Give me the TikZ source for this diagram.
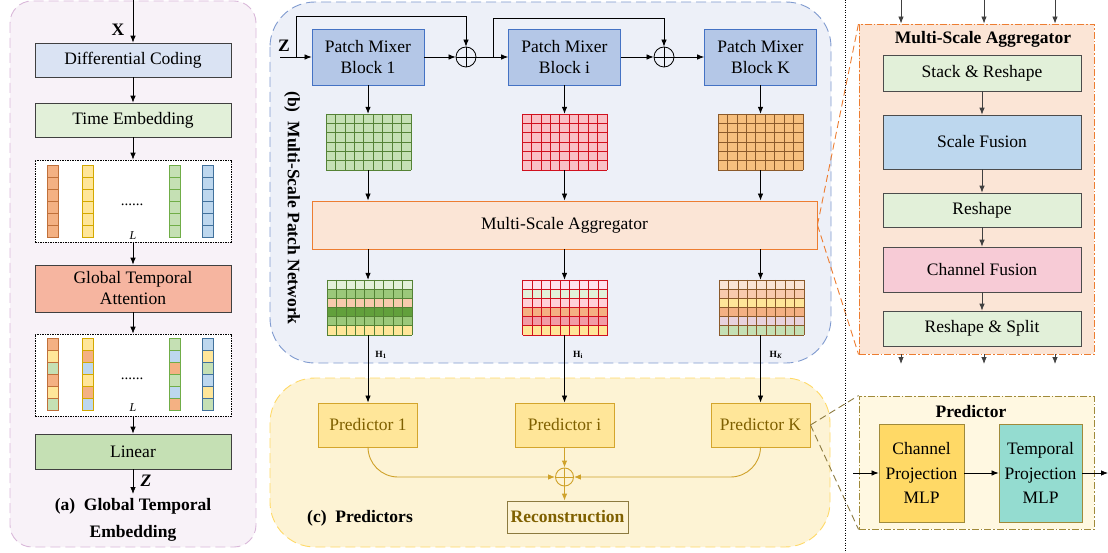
\documentclass[tikz,border=0pt]{standalone}
\usepackage{fontspec}
\setmainfont{Liberation Serif}
\usetikzlibrary{arrows.meta,calc}
\definecolor{pA}{HTML}{F8F2F8}\definecolor{pAl}{HTML}{D9B8D9}
\definecolor{pB}{HTML}{EDF0F8}\definecolor{pBl}{HTML}{7F9ACF}
\definecolor{pC}{HTML}{FDF3D4}\definecolor{pCl}{HTML}{FFD966}
\definecolor{cDC}{HTML}{DAE3F3}\definecolor{cTE}{HTML}{E2F0D9}
\definecolor{cGTA}{HTML}{F6B5A0}\definecolor{cLin}{HTML}{C5E0B4}
\definecolor{cPM}{HTML}{B4C7E7}\definecolor{cPMl}{HTML}{4472C4}
\definecolor{cAg}{HTML}{FBE5D6}\definecolor{cAgl}{HTML}{ED7D31}
\definecolor{cSF}{HTML}{BDD7EE}\definecolor{cCF}{HTML}{F7CBD6}
\definecolor{cPr}{HTML}{FFE699}\definecolor{cPrl}{HTML}{D4A52C}
\definecolor{cPrt}{HTML}{7F6000}\definecolor{gold}{HTML}{CFA22A}
\definecolor{cRecl}{HTML}{8C7A3F}\definecolor{cPB}{HTML}{FFF8E1}
\definecolor{cPBl}{HTML}{A08A3A}\definecolor{cCP}{HTML}{FFD966}
\definecolor{cTP}{HTML}{94DCD0}
% cell colours
\definecolor{oF}{HTML}{F4B183}\definecolor{oL}{HTML}{C0703A}
\definecolor{yF}{HTML}{FFE699}\definecolor{yL}{HTML}{D4A800}
\definecolor{gF}{HTML}{C5E0B4}\definecolor{gL}{HTML}{70AD47}
\definecolor{bF}{HTML}{BDD7EE}\definecolor{bL}{HTML}{41719C}
\definecolor{grL}{HTML}{548235}
\definecolor{pkF}{HTML}{F9C0C6}\definecolor{pkL}{HTML}{D0101E}
\definecolor{orF}{HTML}{F6BF7E}\definecolor{orL}{HTML}{8B5A2B}
\definecolor{r1}{HTML}{E2F0D9}\definecolor{r2}{HTML}{9BC87A}
\definecolor{r3}{HTML}{F8CBAD}\definecolor{r4}{HTML}{62A03C}
\definecolor{s1}{HTML}{FFE1EC}\definecolor{s3}{HTML}{FFD0D8}
\definecolor{s5}{HTML}{F19CA6}
\definecolor{t1}{HTML}{FBE5D6}\definecolor{t5}{HTML}{E8D3DD}
\newcommand\fs{\fontsize{17.5}{21}\selectfont}
\newcommand\mgrid[6]{%
  \foreach \cc [count=\j from 0] in {#6} {\fill[\cc] (#1,{#2+\j*#4/6}) rectangle ++(#3,{#4/6});}
  \foreach \i in {0,...,9} {\draw[#5,line width=0.7pt] ({#1+\i*#3/9},#2) -- ++(0,#4);}
  \foreach \j in {0,...,6} {\draw[#5,line width=0.7pt] (#1,{#2+\j*#4/6}) -- ++(#3,0);}
}
\newcommand\mcol[4]{%
  \foreach \cc [count=\j from 0] in {#4} {\filldraw[fill=\cc,draw=#3,line width=0.7pt] (#1,{#2+\j*12}) rectangle ++(11,12);}
}
\begin{document}
\begin{tikzpicture}[x=1pt,y=-1pt,
  box/.style={draw=black!75,line width=0.7pt,minimum width=196pt,minimum height=34pt,align=center,font=\fs,inner sep=0pt},
  pmbox/.style={draw=cPMl,fill=cPM,line width=0.8pt,minimum width=112pt,minimum height=56pt,align=center,font=\fontsize{17.5}{21}\selectfont,inner sep=0pt},
  rbox/.style={draw=black!70,line width=0.7pt,minimum width=198pt,align=center,font=\fs,inner sep=0pt},
  prbox/.style={draw=cPrl,fill=cPr,line width=0.9pt,minimum width=99pt,minimum height=44pt,font=\fs,text=cPrt,inner sep=0pt},
  arr/.style={-{Latex[length=7pt,width=5.5pt]},line width=0.75pt},
  gridnode/.style={minimum width=85pt,inner sep=0pt},
  dotbox/.style={draw=black,line width=0.6pt,dash pattern=on 1.5pt off 1pt,fill=white,minimum width=196pt,minimum height=82pt,inner sep=0pt},
  panel/.style={line width=0.9pt,dash pattern=on 10pt off 5pt},
  lbl/.style={font=\fs\bfseries}
]
\useasboundingbox (0,0) rectangle (1108,553);
% ---------- panels
\path[panel,draw=pAl,fill=pA,rounded corners=22pt] (10,1) rectangle (256,547);
\path[panel,draw=pBl,fill=pB,rounded corners=45pt] (270,2) rectangle (831,363);
\path[panel,draw=pCl,fill=pC,rounded corners=45pt] (270,378) rectangle (830,547);

% ---------- (a) Global Temporal Embedding
\coordinate (xin) at (133,0);
\node[box,fill=cDC] (dc) at (133,60) {Differential Coding};
\node[box,fill=cTE] (te) at (133,120) {Time Embedding};
\node[dotbox] (d1) at (133,201) {};
\node[box,fill=cGTA,minimum height=47pt,font=\fontsize{17.5}{21}\selectfont] (gta) at (133,288.5) {Global Temporal\\Attention};
\node[dotbox] (d2) at (133,375) {};
\node[box,fill=cLin,minimum height=35pt] (lin) at (133,451.5) {Linear};
\coordinate (zout) at (133,494);
\node[font=\fs\bfseries] (xl) at (118,30) {X};
\node[font=\fs\bfseries\itshape] (zl) at (146,481) {Z};
\draw[arr] (xin) -- (dc.north);
\draw[arr] (dc.south) -- (te.north);
\draw[arr] (te.south) -- (d1.north);
\draw[arr] (d1.south) -- (gta.north);
\draw[arr] (gta.south) -- (d2.north);
\draw[arr] (d2.south) -- (lin.north);
\draw[arr] (lin.south) -- (zout);
% columns box 1
\mcol{47}{165}{oL}{oF,oF,oF,oF,oF,oF}
\mcol{82}{165}{yL}{yF,yF,yF,yF,yF,yF}
\mcol{169}{165}{gL}{gF,gF,gF,gF,gF,gF}
\mcol{202}{165}{bL}{bF,bF,bF,bF,bF,bF}
\node[font=\fontsize{15}{18}\selectfont] (dots1) at (132,205) {......};
\node[font=\fontsize{12}{14}\selectfont\itshape] (L1) at (133,236) {L};
% columns box 2
\mcol{47}{338.5}{oL}{oF,yF,gF,oF,yF,gF}
\mcol{82}{338.5}{yL}{yF,oF,bF,yF,oF,bF}
\mcol{169}{338.5}{gL}{gF,bF,oF,gF,bF,oF}
\mcol{202}{338.5}{bL}{bF,yF,gF,bF,yF,gF}
\node[font=\fontsize{15}{18}\selectfont] (dots2) at (132,379) {......};
\node[font=\fontsize{12}{14}\selectfont\itshape] (L2) at (133,408) {L};
\node[font=\fontsize{17.5}{27}\selectfont\bfseries,align=center] (ta) at (133,519.5) {(a)\ \ Global Temporal\\Embedding};

% ---------- (b) Multi-Scale Patch Network
\node[pmbox] (pm1) at (368,57) {Patch Mixer\\Block 1};
\node[pmbox] (pmi) at (564.5,57) {Patch Mixer\\Block i};
\node[pmbox] (pmK) at (760.5,57) {Patch Mixer\\Block K};
\node[circle,draw=black,line width=0.8pt,minimum size=20pt,inner sep=0pt] (c1) at (466,57) {};
\node[circle,draw=black,line width=0.8pt,minimum size=20pt,inner sep=0pt] (c2) at (664,57) {};
\draw[line width=0.8pt] (c1.north) -- (c1.south) (c1.west) -- (c1.east);
\draw[line width=0.8pt] (c2.north) -- (c2.south) (c2.west) -- (c2.east);
\coordinate (zin) at (280,57);
\coordinate (sk1) at (296,57);
\coordinate (sk2) at (493,57);
\node[font=\fs\bfseries] (zb) at (284,46) {Z};
\draw[arr] (zin) -- (pm1.west);
\draw[arr] (pm1.east) -- (c1.west);
\draw[arr] (c1.east) -- (pmi.west);
\draw[arr] (pmi.east) -- (c2.west);
\draw[arr] (c2.east) -- (pmK.west);
\draw[arr] (sk1) -- ++(0,-41) -| (c1.north);
\draw[arr] (sk2) -- ++(0,-39) -| (c2.north);
% top grids
\node[gridnode,minimum height=56pt] (g1) at (368.5,142) {};
\node[gridnode,minimum height=56pt] (gi) at (564.5,142) {};
\node[gridnode,minimum height=56pt] (gK) at (760.5,142) {};
\mgrid{326}{114}{85}{56}{grL}{gF,gF,gF,gF,gF,gF}
\mgrid{522}{114}{85}{56}{pkL}{pkF,pkF,pkF,pkF,pkF,pkF}
\mgrid{718}{114}{85}{56}{orL}{orF,orF,orF,orF,orF,orF}
\draw[arr] (pm1.south) -- (g1.north -| pm1.south);
\draw[arr] (pmi.south) -- (gi.north -| pmi.south);
\draw[arr] (pmK.south) -- (gK.north -| pmK.south);
% aggregator
\node[draw=cAgl,fill=cAg,line width=0.9pt,minimum width=505pt,minimum height=48pt,font=\fs,inner sep=0pt] (agg) at (564.5,225) {Multi-Scale Aggregator};
\draw[arr] (g1.south -| pm1.south) -- (agg.north -| pm1.south);
\draw[arr] (gi.south -| pmi.south) -- (agg.north -| pmi.south);
\draw[arr] (gK.south -| pmK.south) -- (agg.north -| pmK.south);
% lower grids
\node[gridnode,minimum height=55pt] (h1) at (369.5,307.5) {};
\node[gridnode,minimum height=55pt] (hi) at (565,307.5) {};
\node[gridnode,minimum height=55pt] (hK) at (761.5,307.5) {};
\mgrid{327}{280}{85}{55}{grL}{r1,r2,r3,r4,r2,yF}
\mgrid{522.5}{280}{85}{55}{pkL}{s1,r1,s3,oF,s5,yF}
\mgrid{719}{280}{85}{55}{orL}{t1,r3,yF,oF,t5,gF}
\draw[arr] (agg.south -| pm1.south) -- (h1.north -| pm1.south);
\draw[arr] (agg.south -| pmi.south) -- (hi.north -| pmi.south);
\draw[arr] (agg.south -| pmK.south) -- (hK.north -| pmK.south);
\node[font=\fontsize{9.5}{11}\selectfont] (H1) at (381,355) {\textbf{H}\textsubscript{\textbf{1}}};
\node[font=\fontsize{9.5}{11}\selectfont] (Hi) at (578,355) {\textbf{H}\textsubscript{\textbf{i}}};
\node[font=\fontsize{9.5}{11}\selectfont] (HK) at (776,355) {\textbf{H}\textsubscript{\textbf{\textit{K}}}};
\node[lbl,rotate=-90] (tb) at (292,208) {(b)\ \ Multi-Scale Patch Network};

% ---------- (c) Predictors
\node[prbox] (p1) at (368,425) {Predictor 1};
\node[prbox] (pi) at (564.5,425) {Predictor i};
\node[prbox] (pK) at (760.5,425) {Predictor K};
\draw[arr] (h1.south -| pm1.south) -- (p1.north);
\draw[arr] (hi.south -| pmi.south) -- (pi.north);
\draw[arr] (hK.south -| pmK.south) -- (pK.north);
\node[circle,draw=gold,line width=0.9pt,minimum size=18pt,inner sep=0pt] (sc) at (564.5,477) {};
\draw[gold,line width=0.9pt] (sc.north) -- (sc.south) (sc.west) -- (sc.east);
\node[draw=cRecl,fill=pC,line width=0.8pt,minimum width=121pt,minimum height=32pt,inner sep=0pt,font=\fs\bfseries,text=cPrt] (rec) at (567.5,517) {Reconstruction};
\draw[arr,gold,line width=0.9pt] (pi.south) -- (sc.north);
\draw[arr,gold,line width=0.9pt,rounded corners=30pt] (p1.south) |- (sc.west);
\draw[arr,gold,line width=0.9pt,rounded corners=30pt] (pK.south) |- (sc.east);
\draw[arr,gold,line width=0.9pt] (sc.south) -- (sc.south |- rec.north);
\node[lbl] (tc) at (360,518) {(c)\ \ Predictors};

% ---------- right side
\node[draw=cAgl,fill=cAg,line width=0.9pt,dash pattern=on 7pt off 2pt on 1.5pt off 2pt,minimum width=235pt,minimum height=330pt,inner sep=0pt] (msa) at (976.5,189) {};
\node[draw=cPBl,fill=cPB,line width=0.9pt,dash pattern=on 7pt off 2pt on 1.5pt off 2pt,minimum width=235pt,minimum height=133pt,inner sep=0pt] (prb) at (976.5,462.5) {};
\draw[cAgl,line width=0.9pt,dash pattern=on 7pt off 4pt] (agg.east) -- (msa.north west);
\draw[cAgl,line width=0.9pt,dash pattern=on 7pt off 4pt] (agg.east) -- (msa.south west);
\draw[cRecl,line width=0.9pt,dash pattern=on 7pt off 4pt] (pK.east) -- (prb.north west);
\draw[cRecl,line width=0.9pt,dash pattern=on 7pt off 4pt] (pK.east) -- (prb.south west);
\coordinate (vt) at (845,0);
\coordinate (vb) at (845,553);
\draw[line width=1pt,dash pattern=on 1pt off 1.5pt] (vt) -- (vb);
\node[lbl] (msat) at (983,39) {Multi-Scale Aggregator};
\node[rbox,fill=cTE,minimum height=36pt] (sr) at (982,73) {Stack \& Reshape};
\node[rbox,fill=cSF,minimum height=54pt] (sf) at (982,142) {Scale Fusion};
\node[rbox,fill=cTE,minimum height=34pt] (rs) at (982,210) {Reshape};
\node[rbox,fill=cCF,minimum height=45pt] (cf) at (982,269.5) {Channel Fusion};
\node[rbox,fill=cTE,minimum height=35pt] (rss) at (982,328.5) {Reshape \& Split};
\draw[arr,black!75] (sr.south) -- (sf.north);
\draw[arr,black!75] (sf.south) -- (rs.north);
\draw[arr,black!75] (rs.south) -- (cf.north);
\draw[arr,black!75] (cf.south) -- (rss.north);
\foreach \xx [count=\k] in {901,984,1055} {
  \coordinate (ti\k) at (\xx,0);
  \coordinate (to\k) at (\xx,364);
  \draw[arr,black!75] (ti\k) -- (ti\k |- msa.north);
  \draw[arr,black!75] (to\k |- msa.south) -- (to\k);
}
\node[lbl] (prt) at (971,412) {Predictor};
\node[draw=cPBl,fill=cCP,line width=0.8pt,minimum width=85pt,minimum height=98pt,align=center,inner sep=0pt,font=\fontsize{17.5}{24.5}\selectfont] (cp) at (921.5,473) {Channel\\Projection\\MLP};
\node[draw=cPBl,fill=cTP,line width=0.8pt,minimum width=83pt,minimum height=98pt,align=center,inner sep=0pt,font=\fontsize{17.5}{24.5}\selectfont] (tp) at (1040.5,473) {Temporal\\Projection\\MLP};
\coordinate (pin) at (853,473);
\coordinate (pout) at (1108,473);
\draw[arr] (pin) -- (cp.west);
\draw[arr] (cp.east) -- (tp.west);
\draw[arr] (tp.east) -- (pout);
\end{tikzpicture}
\end{document}
